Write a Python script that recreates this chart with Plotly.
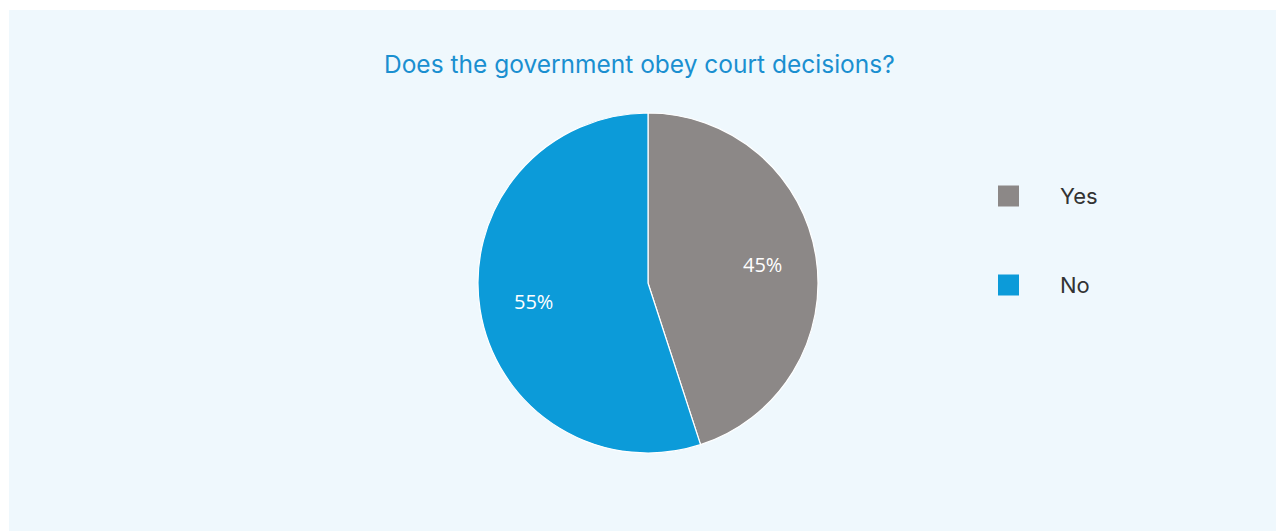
import math
import plotly.graph_objects as go

# Survey answers and their shares
labels = ["Yes", "No"]
values = [45, 55]
colors = ["#8c8887", "#0c9bd9"]
title_text = "Does the government obey court decisions?"

W, H = 1276, 531

# pie geometry in pixels
CX, CY, R = 648, 283, 170
LABEL_RADIUS = 0.68


def px_x(x):
    return x / W


def px_y(y):
    return 1 - y / H


fig = go.Figure()

fig.add_trace(go.Pie(
    labels=labels,
    values=values,
    sort=False,
    direction="clockwise",
    rotation=0,
    marker=dict(colors=colors, line=dict(color="#ffffff", width=1.2)),
    textinfo="none",
    domain=dict(x=[px_x(CX - R), px_x(CX + R)], y=[px_y(CY + R), px_y(CY - R)]),
    showlegend=False,
    hoverinfo="label+percent",
))

shapes = [
    # light panel behind the chart
    dict(type="rect", xref="paper", yref="paper",
         x0=px_x(9), x1=1.0, y0=0.0, y1=px_y(10),
         fillcolor="#eff8fd", line=dict(width=0), layer="below"),
]
annotations = [
    dict(text=title_text, xref="paper", yref="paper",
         x=px_x(640), y=px_y(64), xanchor="center", yanchor="middle",
         showarrow=False,
         font=dict(family="Inter", size=24.5, color="#1a8fd0")),
]

# percentage labels placed at each slice's mid angle
total = sum(values)
cum = 0
for v in values:
    mid = (cum + v / 2) / total * 2 * math.pi
    cum += v
    x = CX + LABEL_RADIUS * R * math.sin(mid)
    y = CY - LABEL_RADIUS * R * math.cos(mid)
    annotations.append(dict(text=f"{round(100 * v / total)}%",
                            xref="paper", yref="paper",
                            x=px_x(x), y=px_y(y), xanchor="center",
                            yanchor="middle", showarrow=False,
                            font=dict(family="Open Sans", size=20,
                                      color="#ffffff")))

# legend: swatch + label per category
legend_rows = [196, 285]
for lab, col, yc in zip(labels, colors, legend_rows):
    shapes.append(dict(type="rect", xref="paper", yref="paper",
                       x0=px_x(998), x1=px_x(1019),
                       y0=px_y(yc + 10.5), y1=px_y(yc - 10.5),
                       fillcolor=col, line=dict(width=0)))
    annotations.append(dict(text=lab, xref="paper", yref="paper",
                            x=px_x(1058), y=px_y(yc), xanchor="left",
                            yanchor="middle", showarrow=False,
                            font=dict(family="Inter", size=22,
                                      color="#333333")))

fig.update_layout(
    width=W, height=H,
    margin=dict(l=0, r=0, t=0, b=0),
    paper_bgcolor="#ffffff",
    plot_bgcolor="#ffffff",
    shapes=shapes,
    annotations=annotations,
)

fig.write_html("out.html")
